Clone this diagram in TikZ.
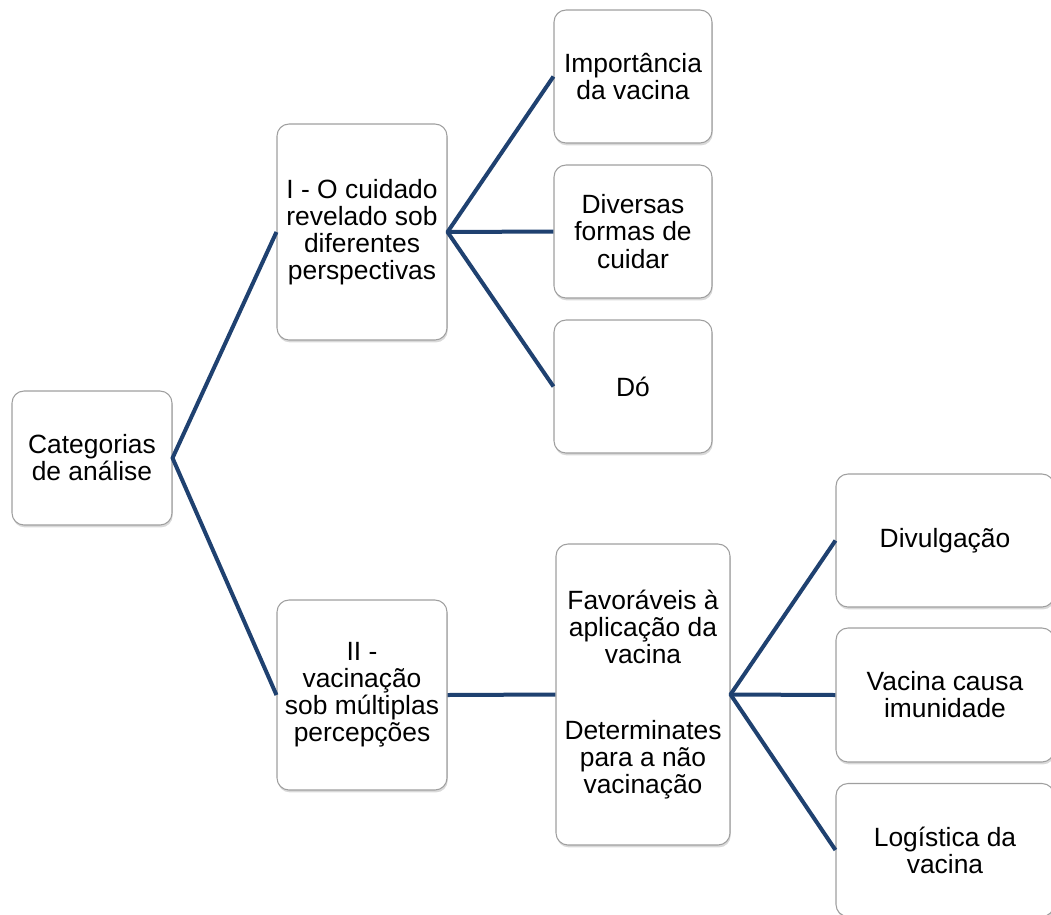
\documentclass[tikz,border=0pt]{standalone}
\usepackage{fontspec}
\setmainfont{Liberation Sans}
\usetikzlibrary{shadows}
\definecolor{linkblue}{RGB}{31,65,112}
\begin{document}
\begin{tikzpicture}[x=0.75pt,y=-0.75pt,line join=round,font=\fontsize{19.8}{20.3}\selectfont,
	caixa/.style={draw=gray!75,line width=0.8pt,fill=white,rounded corners=9pt,align=center,inner sep=2pt,
		drop shadow={opacity=0.3,shadow xshift=0.6pt,shadow yshift=-1.8pt}},
	liga/.style={draw=linkblue,line width=3pt}]
	\useasboundingbox (0,0) rectangle (1051,915);
	% raiz
	\node[caixa,minimum width=120pt,minimum height=100.5pt] (cat) at (92,458) {Categorias\\de análise};
	% categoria I
	\node[caixa,minimum width=127.5pt,minimum height=162pt] (cuid) at (362,232) {I - O cuidado\\revelado sob\\diferentes\\perspectivas};
	\node[caixa,minimum width=118.5pt,minimum height=99.75pt] (imp) at (633,76.5) {Importância\\da vacina};
	\node[caixa,minimum width=118.5pt,minimum height=99.75pt] (formas) at (633,231.5) {Diversas\\formas de\\cuidar};
	\node[caixa,minimum width=118.5pt,minimum height=99.75pt] (do) at (633,386.5) {Dó};
	% categoria II
	\node[caixa,minimum width=127.5pt,minimum height=142.5pt] (vac) at (362,695) {II -\\vacinação\\sob múltiplas\\percepções};
	\node[caixa,minimum width=130.5pt,minimum height=225.75pt] (fav) at (643,694.5) {Favoráveis à\\aplicação da\\vacina\\[37pt]Determinates\\para a não\\vacinação};
	\node[caixa,minimum width=163.5pt,minimum height=99.75pt] (divulg) at (945,540.5) {Divulgação};
	\node[caixa,minimum width=163.5pt,minimum height=100.5pt] (imun) at (945,695) {Vacina causa\\imunidade};
	\node[caixa,minimum width=163.5pt,minimum height=99.75pt] (logis) at (945,850) {Logística da\\vacina};
	% ligacoes
	\draw[liga] (cuid.west)--(cat.east)--(vac.west);
	\draw[liga] (imp.west)--(cuid.east)--(do.west);
	\draw[liga] (cuid.east)--(formas.west);
	\draw[liga] (vac.east)--(fav.west);
	\draw[liga] (divulg.west)--(fav.east)--(logis.west);
	\draw[liga] (fav.east)--(imun.west);
\end{tikzpicture}
\end{document}
